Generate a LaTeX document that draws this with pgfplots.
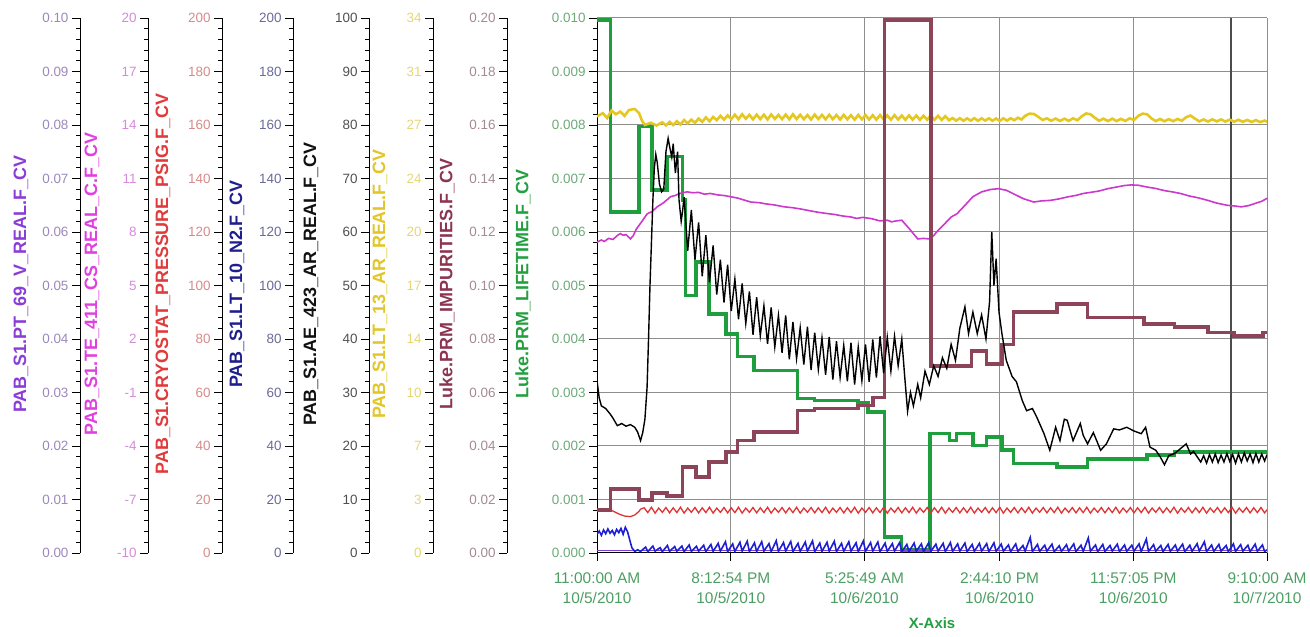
\documentclass[border=0pt]{standalone}
\usepackage{pgfplots}
\pgfplotsset{compat=1.18}
\usepackage{fontspec}
\setmainfont{Liberation Sans}
\definecolor{c1}{HTML}{8A3CD8}\definecolor{c1t}{HTML}{9C88BC}
\definecolor{c2}{HTML}{E040E0}\definecolor{c2t}{HTML}{D68ADC}
\definecolor{c3}{HTML}{E03A3A}\definecolor{c3t}{HTML}{D88A8A}
\definecolor{c4}{HTML}{1E1E8C}\definecolor{c4t}{HTML}{6A6A98}
\definecolor{c5}{HTML}{111111}\definecolor{c5t}{HTML}{505050}
\definecolor{c6}{HTML}{E2C628}\definecolor{c6t}{HTML}{E6D674}
\definecolor{c7}{HTML}{8C3450}\definecolor{c7t}{HTML}{A48A92}
\definecolor{c8}{HTML}{22A040}\definecolor{c8t}{HTML}{6CAA78}
\definecolor{xtc}{HTML}{4C9E62}
\definecolor{sYel}{HTML}{E4C820}
\definecolor{sMag}{HTML}{CC38CC}
\definecolor{sRed}{HTML}{E03434}
\definecolor{sBlu}{HTML}{1E1ED2}
\definecolor{sMar}{HTML}{8C4458}
\definecolor{sGrn}{HTML}{1E9E3C}
\definecolor{sPur}{HTML}{8040D0}
\definecolor{gridc}{HTML}{8E8E8E}
\newcommand{\ytf}{\fontsize{13.5}{14}\selectfont}
\newcommand{\xtf}{\fontsize{15.5}{20}\selectfont}
\newcommand{\lbf}{\bfseries\fontsize{18}{18}\selectfont}
\pgfplotsset{
  scaled ticks=false,
  sideax/.style={anchor=south west, scale only axis, width=1bp, height=535bp,
    xmin=0, xmax=1, hide x axis, axis y line*=left, ytick pos=left,
    scaled y ticks=false,
    tick align=outside, major tick length=8bp, minor tick length=4bp,
    minor y tick num=4, y axis line style={black, line width=1bp},
    tick style={black, line width=0.8bp},
    yticklabel style={font=\ytf}},
  ovl/.style={anchor=south west, at={(597bp,84bp)}, scale only axis,
    width=670bp, height=535bp, xmin=0, xmax=46.1667, hide axis},
}
\begin{document}
\begin{tikzpicture}[x=1bp,y=1bp]
\path[use as bounding box] (0,0) rectangle (1310,637);
% ---- side axes ----
\begin{axis}[sideax, at={(80bp,84bp)}, ymin=0, ymax=0.1,
  ytick={0,0.01,0.02,0.03,0.04,0.05,0.06,0.07,0.08,0.09,0.1},
  yticklabels={0.00,0.01,0.02,0.03,0.04,0.05,0.06,0.07,0.08,0.09,0.10},
  yticklabel style={text=c1t}]
\end{axis}
\begin{axis}[sideax, at={(148bp,84bp)}, ymin=-10, ymax=20,
  ytick={-10,-7,-4,-1,2,5,8,11,14,17,20},
  yticklabels={-10,-7,-4,-1,2,5,8,11,14,17,20},
  yticklabel style={text=c2t}]
\end{axis}
\begin{axis}[sideax, at={(222bp,84bp)}, ymin=0, ymax=200,
  ytick={0,20,40,60,80,100,120,140,160,180,200},
  yticklabels={0,20,40,60,80,100,120,140,160,180,200},
  yticklabel style={text=c3t}]
\end{axis}
\begin{axis}[sideax, at={(293bp,84bp)}, ymin=0, ymax=200,
  ytick={0,20,40,60,80,100,120,140,160,180,200},
  yticklabels={0,20,40,60,80,100,120,140,160,180,200},
  yticklabel style={text=c4t}]
\end{axis}
\begin{axis}[sideax, at={(369bp,84bp)}, ymin=0, ymax=100,
  ytick={0,10,20,30,40,50,60,70,80,90,100},
  yticklabels={0,10,20,30,40,50,60,70,80,90,100},
  yticklabel style={text=c5t}]
\end{axis}
\begin{axis}[sideax, at={(433bp,84bp)}, ymin=0, ymax=34,
  ytick={0,3.4,6.8,10.2,13.6,17,20.4,23.8,27.2,30.6,34},
  yticklabels={0,3,7,10,14,17,20,24,27,31,34},
  yticklabel style={text=c6t}]
\end{axis}
\begin{axis}[sideax, at={(507bp,84bp)}, ymin=0, ymax=0.2,
  ytick={0,0.02,0.04,0.06,0.08,0.1,0.12,0.14,0.16,0.18,0.2},
  yticklabels={0.00,0.02,0.04,0.06,0.08,0.10,0.12,0.14,0.16,0.18,0.20},
  yticklabel style={text=c7t}]
\end{axis}
% ---- main axis (Luke.PRM_LIFETIME) ----
\begin{axis}[anchor=south west, at={(597bp,84bp)}, scale only axis,
  width=670bp, height=535bp, xmin=0, xmax=46.1667, ymin=0, ymax=0.01,
  scaled y ticks=false, scaled x ticks=false,
  axis x line*=bottom, axis y line*=left, tick pos=left,
  tick align=outside, major tick length=8bp, minor tick length=4bp,
  minor y tick num=4, minor x tick num=9,
  axis line style={black, line width=1bp},
  tick style={black, line width=0.8bp},
  grid=major, major grid style={gridc, line width=1bp},
  ytick={0,0.001,0.002,0.003,0.004,0.005,0.006,0.007,0.008,0.009,0.01},
  yticklabels={0.000,0.001,0.002,0.003,0.004,0.005,0.006,0.007,0.008,0.009,0.010},
  yticklabel style={font=\ytf, text=c8t},
  xtick={0,9.215,18.4303,27.7361,36.9514,46.1667},
  xticklabels={{11:00:00 AM\\10/5/2010},{8:12:54 PM\\10/5/2010},{5:25:49 AM\\10/6/2010},{2:44:10 PM\\10/6/2010},{11:57:05 PM\\10/6/2010},{9:10:00 AM\\10/7/2010}},
  xticklabel style={font=\xtf, text=xtc, align=center, yshift=-8bp},
  xlabel={X-Axis},
  xlabel style={at={(axis description cs:0.5,0)}, anchor=center, yshift=-70bp, font=\bfseries\fontsize{15}{15}\selectfont, text=c8}]
% cursor line
\addplot[color=gray!60!black, line width=1.5bp] coordinates {(43.67,0) (43.67,0.01)};
% Luke.PRM_LIFETIME.F_CV
\addplot[const plot, color=sGrn, line width=3.6bp] coordinates {
(0,0.00996)(0.92,0.00637)(2.88,0.00797)(3.80,0.00678)(4.84,0.00741)(5.88,0.0066)(6.1,0.00481)(6.8,0.00544)(7.72,0.00447)(8.87,0.00409)(9.68,0.00367)(10.83,0.00341)(13.82,0.00289)(14.98,0.00285)(17.97,0.0028)(18.66,0.00263)(19.82,0.0003)(20.97,0.00006)(22.93,0.00223)(24.3,0.0021)(24.78,0.00223)(25.9,0.00201)(26.85,0.00217)(27.9,0.00192)(28.7,0.00167)(31.7,0.00161)(33.8,0.00176)(37.9,0.00183)(39.8,0.00189)(46.17,0.00189)};
\end{axis}
% ---- PAB_S1.PT_69_V_REAL.F_CV (0..0.1) ----
\begin{axis}[ovl, ymin=0, ymax=0.1]
\addplot[color=sPur, line width=1bp] coordinates {(0,0.0004)(46.17,0.0004)};
\end{axis}
% ---- PAB_S1.CRYOSTAT_PRESSURE_PSIG.F_CV (0..200) ----
\begin{axis}[ovl, ymin=0, ymax=200]
\addplot[color=sRed, line width=1.3bp] coordinates {
(0,16.0)(0.3,16.4)(0.6,15.6)(0.9,16.2)(1.2,15.4)(1.5,14.6)(1.9,13.8)(2.3,13.6)(2.6,14.2)(2.9,15.6)(3.0,16.4)
(3.25,16.9)(3.5,15.1)(3.75,17.1)(4,14.9)(4.25,16.8)(4.5,15.2)(4.75,17)(5,15)
(5.25,16.9)(5.5,15.1)(5.75,17.1)(6,14.9)(6.25,16.8)(6.5,15.2)(6.75,17)(7,15)
(7.25,16.9)(7.5,15.1)(7.75,17.1)(8,14.9)(8.25,16.8)(8.5,15.2)(8.75,17)(9,15)
(9.25,16.9)(9.5,15.1)(9.75,17.1)(10,14.9)(10.25,16.8)(10.5,15.2)(10.75,17)(11,15)
(11.25,16.9)(11.5,15.1)(11.75,17.1)(12,14.9)(12.25,16.8)(12.5,15.2)(12.75,17)(13,15)
(13.25,16.9)(13.5,15.1)(13.75,17.1)(14,14.9)(14.25,16.8)(14.5,15.2)(14.75,17)(15,15)
(15.25,16.9)(15.5,15.1)(15.75,17.1)(16,14.9)(16.25,16.8)(16.5,15.2)(16.75,17)(17,15)
(17.25,16.9)(17.5,15.1)(17.75,17.1)(18,14.9)(18.25,16.8)(18.5,15.2)(18.75,17)(19,15)
(19.25,16.9)(19.5,15.1)(19.75,17.1)(20,14.9)(20.25,16.8)(20.5,15.2)(20.75,17)(21,15)
(21.25,16.9)(21.5,15.1)(21.75,17.1)(22,14.9)(22.25,16.8)(22.5,15.2)(22.75,17)(23,15)
(23.25,16.9)(23.5,15.1)(23.75,17.1)(24,14.9)(24.25,16.8)(24.5,15.2)(24.75,17)(25,15)
(25.25,16.9)(25.5,15.1)(25.75,17.1)(26,14.9)(26.25,16.8)(26.5,15.2)(26.75,17)(27,15)
(27.25,16.9)(27.5,15.1)(27.75,17.1)(28,14.9)(28.25,16.8)(28.5,15.2)(28.75,17)(29,15)
(29.25,16.9)(29.5,15.1)(29.75,17.1)(30,14.9)(30.25,16.8)(30.5,15.2)(30.75,17)(31,15)
(31.25,16.9)(31.5,15.1)(31.75,17.1)(32,14.9)(32.25,16.8)(32.5,15.2)(32.75,17)(33,15)
(33.25,16.9)(33.5,15.1)(33.75,17.1)(34,14.9)(34.25,16.8)(34.5,15.2)(34.75,17)(35,15)
(35.25,16.9)(35.5,15.1)(35.75,17.1)(36,14.9)(36.25,16.8)(36.5,15.2)(36.75,17)(37,15)
(37.25,16.9)(37.5,15.1)(37.75,17.1)(38,14.9)(38.25,16.8)(38.5,15.2)(38.75,17)(39,15)
(39.25,16.9)(39.5,15.1)(39.75,17.1)(40,14.9)(40.25,16.8)(40.5,15.2)(40.75,17)(41,15)
(41.25,16.9)(41.5,15.1)(41.75,17.1)(42,14.9)(42.25,16.8)(42.5,15.2)(42.75,17)(43,15)
(43.25,16.9)(43.5,15.1)(43.75,17.1)(44,14.9)(44.25,16.8)(44.5,15.2)(44.75,17)(45,15)
(45.25,16.9)(45.5,15.1)(45.75,17.0)(46.0,15.0)(46.17,16.2)};
\end{axis}
% ---- PAB_S1.LT_10_N2.F_CV (0..200) ----
\begin{axis}[ovl, ymin=0, ymax=200]
\addplot[color=sBlu, line width=1.6bp] coordinates {
(0,7.0)(0.15,8.2)(0.3,6.6)(0.45,8.6)(0.6,7.2)(0.75,9.0)(0.9,7.4)(1.05,8.4)(1.2,6.8)(1.35,8.8)(1.5,7.6)(1.65,9.2)(1.8,7.0)(1.95,9.6)(2.1,8.0)(2.25,5.0)(2.4,2.0)(2.6,0.6)(2.8,1.2)
(3.0,0.6)(3.35,2.2)(3.5,0.5)(3.85,2.6)(4.0,0.7)(4.35,2.0)(4.5,0.5)(4.85,2.8)(5.0,0.6)(5.35,2.4)(5.5,0.7)(5.85,2.6)(6.0,0.5)(6.35,3.0)(6.5,0.6)(6.85,2.5)(7.0,0.7)(7.35,2.9)(7.5,0.5)(7.85,3.2)
(8.0,0.6)(8.35,3.6)(8.5,0.7)(8.85,4.2)(9.0,0.5)(9.35,3.4)(9.5,0.6)(9.85,4.0)(10.0,0.7)(10.35,4.4)(10.5,0.5)(10.85,3.8)(11.0,0.6)(11.35,4.2)(11.5,0.7)(11.85,3.5)(12.0,0.5)(12.35,4.6)(12.5,0.6)(12.85,3.9)(13.0,0.7)(13.35,4.3)(13.5,0.5)(13.85,3.6)(14.0,0.6)(14.35,4.1)(14.5,0.7)(14.85,4.5)(15.0,0.5)(15.35,3.7)(15.5,0.6)(15.85,4.0)(16.0,0.7)(16.35,4.4)(16.5,0.5)(16.85,3.6)(17.0,0.6)(17.35,4.2)(17.5,0.7)(17.85,3.8)(18.0,0.5)(18.35,4.5)(18.5,0.6)(18.85,3.9)(19.0,0.7)(19.35,4.1)(19.5,0.5)(19.85,3.7)
(20.0,0.6)(20.35,3.5)(20.5,0.7)(20.85,3.9)(21.0,0.5)(21.35,3.2)(21.5,0.6)(21.85,3.7)(22.0,0.7)(22.35,3.4)(22.5,0.5)(22.85,3.8)(23.0,0.6)(23.35,3.3)(23.5,0.7)(23.85,3.6)(24.0,0.5)(24.35,3.9)(24.5,0.6)(24.85,3.4)(25.0,0.7)(25.35,3.7)(25.5,0.5)(25.85,3.2)(26.0,0.6)(26.35,3.6)(26.5,0.7)(26.85,3.5)(27.0,0.5)(27.35,3.8)(27.5,0.6)(27.85,3.3)
(28.0,0.7)(28.35,3.0)(28.5,0.5)(28.85,3.4)(29.0,0.6)(29.35,2.8)(29.5,0.7)(29.85,5.8)(30.0,0.5)(30.35,3.2)(30.5,0.6)(30.85,2.9)(31.0,0.7)(31.35,3.3)(31.5,0.5)(31.85,2.7)(32.0,0.6)(32.35,3.1)(32.5,0.7)(32.85,3.4)(33.0,0.5)(33.35,2.9)(33.5,0.6)(33.85,5.6)(34.0,0.7)(34.35,3.0)(34.5,0.5)(34.85,3.2)(35.0,0.6)(35.35,2.8)(35.5,0.7)(35.85,3.3)(36.0,0.5)(36.35,3.0)(36.5,0.6)(36.85,2.9)(37.0,0.7)(37.35,3.4)(37.5,0.5)(37.85,5.2)(38.0,0.6)(38.35,3.1)(38.5,0.7)(38.85,2.8)(39.0,0.5)(39.35,3.2)(39.5,0.6)(39.85,3.0)(40.0,0.7)(40.35,3.3)(40.5,0.5)(40.85,2.9)(41.0,0.6)(41.35,3.5)(41.5,0.7)(41.85,4.2)(42.0,0.5)(42.35,3.0)(42.5,0.6)(42.85,3.2)(43.0,0.7)(43.35,2.8)(43.5,0.5)(43.85,3.4)(44.0,0.6)(44.35,3.1)(44.5,0.7)(44.85,2.9)(45.0,0.5)(45.35,3.3)(45.5,0.6)(45.85,3.0)(46.0,0.6)(46.17,1.2)};
\end{axis}
% ---- PAB_S1.LT_13_AR_REAL.F_CV (0..34) ----
\begin{axis}[ovl, ymin=0, ymax=34]
\addplot[color=sYel, line width=2.6bp] coordinates {
(0,27.74)(0.4,27.95)(0.7,27.64)(1.0,28.12)(1.3,27.88)(1.6,28.05)(1.9,27.78)(2.2,28.15)(2.6,28.22)(2.9,27.95)(3.1,27.47)(3.3,27.20)(3.7,27.34)(4.1,27.17)(4.5,27.37)(4.75,27.17)(5.0,27.40)(5.25,27.20)(5.5,27.44)(5.75,27.23)(6.0,27.51)(6.25,27.30)(6.5,27.54)(6.75,27.34)(7.0,27.61)(7.25,27.40)(7.5,27.68)(7.75,27.44)(8.0,27.71)(8.25,27.51)(8.5,27.78)(8.75,27.54)(9.0,27.81)(9.25,27.57)
(9.5,27.85)(9.75,27.57)(10.0,27.88)(10.25,27.60)(10.5,27.84)(10.75,27.56)(11.0,27.86)(11.25,27.58)(11.5,27.85)(11.75,27.55)(12.0,27.87)(12.25,27.59)(12.5,27.84)(12.75,27.57)(13.0,27.86)(13.25,27.56)(13.5,27.88)(13.75,27.58)(14.0,27.85)(14.25,27.57)(14.5,27.83)(14.75,27.55)(15.0,27.86)(15.25,27.58)(15.5,27.84)(15.75,27.56)(16.0,27.85)(16.25,27.57)(16.5,27.83)(16.75,27.55)(17.0,27.84)(17.25,27.56)(17.5,27.82)(17.75,27.54)(18.0,27.84)(18.25,27.56)(18.5,27.83)(18.75,27.55)(19.0,27.82)(19.25,27.54)(19.5,27.83)(19.75,27.55)(20.0,27.81)(20.25,27.54)(20.5,27.82)(20.75,27.55)(21.0,27.80)(21.25,27.53)(21.5,27.81)(21.75,27.54)(22.0,27.80)(22.25,27.53)(22.5,27.79)(22.75,27.54)(23.0,27.80)(23.25,27.53)(23.5,27.78)(23.75,27.52)(24.0,27.76)
(24.25,27.50)(24.5,27.64)(24.75,27.48)(25.0,27.63)(25.25,27.47)(25.5,27.62)(25.75,27.48)(26.0,27.63)(26.25,27.47)(26.5,27.62)(26.75,27.48)(27.0,27.62)(27.25,27.47)(27.5,27.61)(27.75,27.46)(28.0,27.62)(28.25,27.48)(28.5,27.63)(28.75,27.50)(29.0,27.66)(29.25,27.55)(29.5,27.78)(29.8,27.92)(30.1,27.90)(30.4,27.72)(30.7,27.52)(31.0,27.62)(31.3,27.47)(31.6,27.61)(31.9,27.46)(32.2,27.60)(32.5,27.46)(32.8,27.62)(33.1,27.50)(33.4,27.75)(33.7,27.93)(34.0,27.88)(34.3,27.66)(34.6,27.47)(34.9,27.60)(35.2,27.45)(35.5,27.60)(35.8,27.45)(36.1,27.59)(36.4,27.46)(36.7,27.62)(37.0,27.52)(37.3,27.78)(37.6,27.92)(37.9,27.88)(38.2,27.62)(38.5,27.45)(38.8,27.58)(39.1,27.44)(39.4,27.57)(39.7,27.44)(40.0,27.58)(40.3,27.47)(40.6,27.70)(40.9,27.80)(41.2,27.60)(41.5,27.43)(41.8,27.55)(42.1,27.42)(42.4,27.56)(42.7,27.43)(43.0,27.55)(43.3,27.42)(43.6,27.54)(43.9,27.41)(44.2,27.53)(44.5,27.40)(44.8,27.52)(45.1,27.39)(45.4,27.51)(45.7,27.38)(46.0,27.48)(46.17,27.40)};
\end{axis}
% ---- PAB_S1.TE_411_CS_REAL_C.F_CV (-10..20) ----
\begin{axis}[ovl, ymin=-10, ymax=20]
\addplot[color=sMag, line width=1.6bp] coordinates {
(0,7.43)(0.3,7.55)(0.5,7.47)(0.8,7.64)(1.1,7.58)(1.4,7.80)(1.6,7.91)(1.8,7.82)(2.0,7.85)(2.3,7.61)(2.5,7.80)(2.7,8.15)(3.1,8.60)(3.46,9.02)(3.8,9.15)(4.15,9.41)(4.6,9.65)(5.07,9.98)(5.4,10.05)(5.7,10.16)(6.2,10.25)(6.6,10.20)(7.0,10.22)(7.4,10.12)(7.8,10.16)(8.3,10.08)(8.8,10.04)(9.2,9.98)(9.7,9.90)(10.1,9.80)(10.6,9.68)(11.2,9.64)(11.6,9.58)(12.2,9.52)(12.9,9.41)(13.5,9.36)(14.1,9.28)(14.6,9.20)(15.2,9.11)(15.8,9.04)(16.4,8.98)(16.9,8.90)(17.5,8.84)(17.9,8.76)(18.3,8.82)(18.9,8.75)(19.5,8.62)(20.0,8.66)(20.3,8.57)(20.6,8.62)(21.0,8.66)(21.5,8.20)(22.1,7.61)(22.5,7.64)(22.9,7.61)(23.2,7.80)(23.5,8.09)(24.0,8.50)(24.4,8.84)(24.8,9.02)(25.3,9.45)(25.9,9.98)(26.5,10.25)(27.1,10.38)(27.66,10.43)(28.2,10.34)(28.8,10.10)(29.4,9.86)(30.1,9.68)(30.6,9.74)(31.2,9.77)(31.8,9.85)(32.5,9.98)(33.0,10.05)(33.5,10.16)(34.0,10.22)(34.6,10.30)(35.2,10.43)(35.8,10.52)(36.3,10.60)(36.8,10.64)(37.3,10.62)(37.9,10.52)(38.5,10.44)(39.1,10.32)(39.7,10.24)(40.2,10.16)(40.8,10.02)(41.4,9.92)(42.1,9.77)(42.7,9.62)(43.4,9.50)(43.9,9.46)(44.4,9.41)(44.9,9.48)(45.3,9.59)(45.8,9.72)(46.17,9.89)};
\end{axis}
% ---- Luke.PRM_IMPURITIES.F_CV (0..0.2) ----
\begin{axis}[ovl, ymin=0, ymax=0.2]
\addplot[const plot, color=sMar, line width=3.6bp] coordinates {
(0,0.016)(0.92,0.024)(2.88,0.0198)(3.80,0.0224)(4.84,0.0212)(5.88,0.0322)(6.80,0.0284)(7.72,0.034)(8.87,0.0378)(9.68,0.042)(10.83,0.0452)(13.82,0.0532)(14.98,0.054)(17.97,0.0552)(19.0,0.0582)(19.82,0.1993)(23.0,0.070)(25.8,0.0756)(26.85,0.0706)(27.9,0.078)(28.7,0.090)(31.7,0.093)(33.8,0.088)(37.7,0.0856)(39.8,0.0844)(42.1,0.0824)(43.9,0.0812)(45.9,0.0824)(46.17,0.0824)};
\end{axis}
% ---- PAB_S1.AE_423_AR_REAL.F_CV (0..100) ----
\begin{axis}[ovl, ymin=0, ymax=100]
\addplot[color=black, line width=1.4bp] coordinates {
(0,32.2)(0.15,29)(0.3,27.5)(0.6,27.0)(0.9,26.0)(1.1,25.2)(1.4,23.8)(1.7,24.2)(2.0,23.7)(2.3,24.0)(2.6,23.5)(2.8,22.6)(3.0,21.0)(3.15,22.5)(3.3,25)(3.45,31)(3.55,40)(3.65,50)(3.75,58)(3.85,66)(3.95,72)(4.05,74.5)(4.15,73)(4.3,69)(4.45,67.5)(4.6,68)(4.75,75)(4.9,77.5)(5.0,76)(5.15,74)(5.25,76.5)(5.4,71)(5.55,75)(5.65,66)(5.8,62)(5.9,64)
(6.0,66.5)(6.25,56.5)(6.5,64.1)(6.75,54.8)(7.0,61.8)(7.25,51.7)(7.5,59.4)(7.75,50.6)(8.0,57.5)(8.25,48.3)(8.5,54.8)(8.75,46.8)(9.0,53.9)(9.25,45.2)(9.5,51.2)(9.75,43.7)(10.0,50.4)(10.25,42.9)(10.5,48.9)(10.75,40.8)(11.0,47.8)(11.25,40.6)(11.5,46.2)(11.75,39.1)(12.0,45.9)(12.25,38.5)(12.5,44.4)(12.75,37.4)(13.0,44.4)(13.25,36.2)(13.5,43.2)(13.75,36.3)(14.0,42.1)(14.25,35.2)(14.5,42.3)(14.75,34.2)(15.0,41.2)(15.25,34.3)(15.5,40.2)(15.75,33.3)(16.0,40.4)(16.25,32.4)(16.5,39.6)(16.75,32.8)(17.0,38.8)(17.25,32.1)(17.5,39.3)(17.75,31.5)(18.0,38.5)(18.25,32.2)(18.5,39.0)(18.75,32.0)(19.0,39.9)(19.25,32.8)(19.5,40.5)(19.75,33.6)(20.0,40.3)
(20.25,34)(20.5,40.5)(20.75,35)(21.0,40)(21.2,33)(21.4,26.5)(21.6,30)(21.8,27.5)(22.1,31.5)(22.3,29)(22.6,34)(22.9,31.5)(23.2,35)(23.5,33)(23.8,36.5)(24.1,34.5)(24.4,39)(24.7,36)(25.0,42)(25.35,46)(25.6,41)(25.9,45)(26.2,41)(26.5,44.5)(26.8,40)(27.05,47)(27.2,60)(27.35,50)(27.5,55)(27.7,45)(27.9,41)(28.2,36)(28.6,33)(28.9,32)(29.3,28.5)(29.6,26.6)(30.0,27)(30.3,25.4)(30.8,22.3)(31.2,19.2)(31.6,23.5)(31.9,21)(32.2,25)(32.4,24.8)(32.8,21)(33.3,24.2)(33.5,22)(33.8,20.4)(34.2,22.5)(34.7,19.2)(35.1,20.4)(35.6,23.2)(36.0,23.0)(36.5,23.5)(37.0,22.8)(37.5,22.3)(37.8,23.5)(38.1,19.8)(38.5,19.2)(38.8,18.0)(39.1,16.5)(39.4,18.2)(39.8,18.6)(40.2,19.5)(40.6,20.4)(40.9,18.5)(41.1,19.0)(41.6,17.0)
(41.8,18.2)(42.0,16.8)(42.2,18.4)(42.4,17.0)(42.6,18.5)(42.8,16.9)(43.0,18.3)(43.2,17.0)(43.4,18.6)(43.6,17.1)(43.8,18.4)(44.0,16.8)(44.2,18.5)(44.4,17.0)(44.6,18.7)(44.8,17.2)(45.0,18.5)(45.2,16.9)(45.4,18.6)(45.6,17.0)(45.8,18.5)(46.0,17.2)(46.17,18.4)};
\end{axis}
% ---- axis titles ----
\node[rotate=90, font=\lbf, text=c1] at (21,353) {PAB\_S1.PT\_69\_V\_REAL.F\_CV};
\node[rotate=90, font=\lbf, text=c2] at (92,353) {PAB\_S1.TE\_411\_CS\_REAL\_C.F\_CV};
\node[rotate=90, font=\lbf, text=c3] at (163,353) {PAB\_S1.CRYOSTAT\_PRESSURE\_PSIG.F\_CV};
\node[rotate=90, font=\lbf, text=c4] at (237,353) {PAB\_S1.LT\_10\_N2.F\_CV};
\node[rotate=90, font=\lbf, text=c5] at (311,353) {PAB\_S1.AE\_423\_AR\_REAL.F\_CV};
\node[rotate=90, font=\lbf, text=c6] at (380,353) {PAB\_S1.LT\_13\_AR\_REAL.F\_CV};
\node[rotate=90, font=\lbf, text=c7] at (447,353) {Luke.PRM\_IMPURITIES.F\_CV};
\node[rotate=90, font=\lbf, text=c8] at (523,353) {Luke.PRM\_LIFETIME.F\_CV};
\end{tikzpicture}
\end{document}
